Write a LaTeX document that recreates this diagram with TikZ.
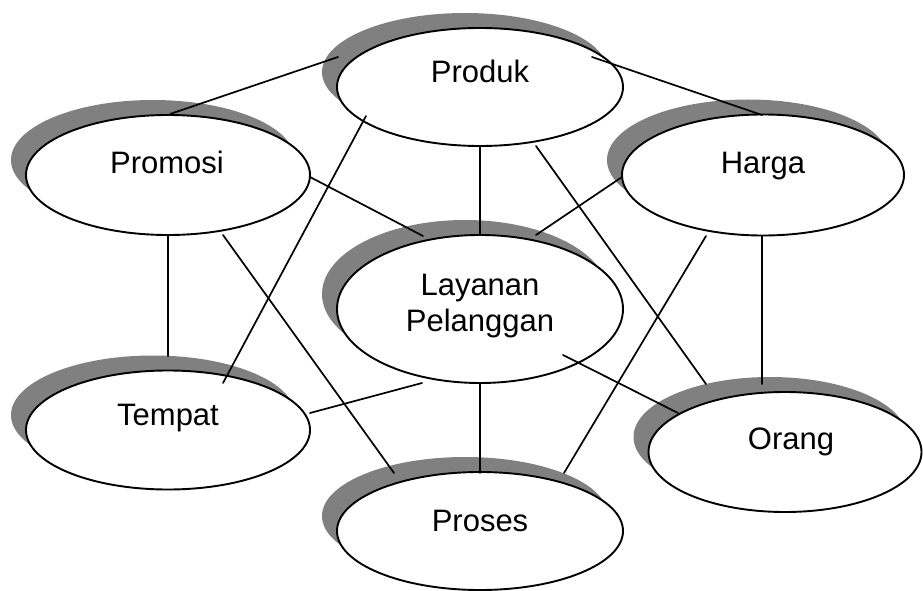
\documentclass[tikz,border=0pt]{standalone}
\usepackage{fontspec}
\setmainfont{Liberation Sans}
\usetikzlibrary{shapes.geometric,shadows}
\definecolor{shadowgray}{HTML}{808080}
\begin{document}
\begin{tikzpicture}[x=1pt,y=-1pt,
  oval/.style={ellipse, draw=black, line width=1.9pt, fill=white, inner sep=0pt,
    drop shadow={shadow xshift=-15pt, shadow yshift=15pt, fill=shadowgray, opacity=1}},
  lbl/.style={font=\fontsize{31}{36}\selectfont, inner sep=0pt, align=center, text=black},
  link/.style={line width=1.7pt, line cap=round}]
\useasboundingbox (0,0) rectangle (923,591);

% ellipses
\node[oval, minimum width=286pt, minimum height=118pt] (produk)  at (480,87)  {};
\node[oval, minimum width=284pt, minimum height=120pt] (promosi) at (168,175) {};
\node[oval, minimum width=282pt, minimum height=121pt] (harga)   at (763,175) {};
\node[oval, minimum width=286pt, minimum height=148pt] (layanan) at (480,309) {};
\node[oval, minimum width=284pt, minimum height=119pt] (tempat)  at (168,430) {};
\node[oval, minimum width=273pt, minimum height=120pt] (orang)   at (785,452) {};
\node[oval, minimum width=286pt, minimum height=118pt] (proses)  at (480,531) {};

% connector end points
\coordinate (pr-po) at (338,57);   \coordinate (po-pr) at (170,114);
\coordinate (pr-ha) at (592,57);   \coordinate (ha-pr) at (762,115);
\coordinate (pr-te) at (366,116);  \coordinate (te-pr) at (223,383);
\coordinate (pr-la) at (480,146);  \coordinate (la-pr) at (480,235);
\coordinate (pr-or) at (536,146);  \coordinate (or-pr) at (706,384);
\coordinate (po-la) at (310,177);  \coordinate (la-po) at (423,236);
\coordinate (po-te) at (168,235);  \coordinate (te-po) at (168,356);
\coordinate (po-ps) at (223,235);  \coordinate (ps-po) at (394,473);
\coordinate (ha-la) at (622,177);  \coordinate (la-ha) at (536,235);
\coordinate (ha-ps) at (706,236);  \coordinate (ps-ha) at (564,473);
\coordinate (ha-or) at (762,236);  \coordinate (or-ha) at (762,384);
\coordinate (la-te) at (422,383);  \coordinate (te-la) at (310,413);
\coordinate (la-or) at (563,355);  \coordinate (or-la) at (678,413);
\coordinate (la-ps) at (480,383);  \coordinate (ps-la) at (480,473);

% connectors
\draw[link] (pr-po) -- (po-pr);
\draw[link] (pr-ha) -- (ha-pr);
\draw[link] (pr-te) -- (te-pr);
\draw[link] (pr-la) -- (la-pr);
\draw[link] (pr-or) -- (or-pr);
\draw[link] (po-la) -- (la-po);
\draw[link] (po-te) -- (te-po);
\draw[link] (po-ps) -- (ps-po);
\draw[link] (ha-la) -- (la-ha);
\draw[link] (ha-ps) -- (ps-ha);
\draw[link] (ha-or) -- (or-ha);
\draw[link] (la-te) -- (te-la);
\draw[link] (la-or) -- (or-la);
\draw[link] (la-ps) -- (ps-la);

% labels
\node[lbl, anchor=base] (produkt)  at (480,83)  {Produk};
\node[lbl, anchor=base] (promosit) at (167,173) {Promosi};
\node[lbl, anchor=base] (hargat)   at (763,173) {Harga};
\node[lbl, anchor=center] (layanant) at (480,306) {Layanan\\Pelanggan};
\node[lbl, anchor=base] (tempatt)  at (168,425) {Tempat};
\node[lbl, anchor=base] (orangt)   at (791,449) {Orang};
\node[lbl, anchor=base] (prosest)  at (480,531) {Proses};
\end{tikzpicture}
\end{document}
